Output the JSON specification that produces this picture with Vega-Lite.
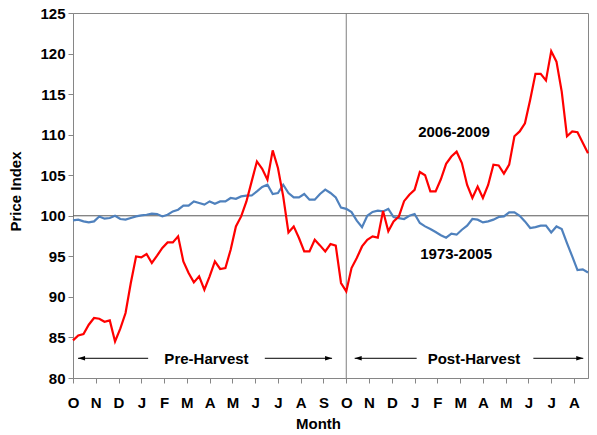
{
  "$schema": "https://vega.github.io/schema/vega-lite/v6.json",
  "width": 515,
  "height": 365,
  "autosize": {"type": "none"},
  "padding": {"left": 73, "top": 13, "right": 9, "bottom": 57},
  "background": "white",
  "config": {
    "view": {"stroke": "#868686", "strokeWidth": 1},
    "font": "Liberation Sans",
    "axis": {
      "labelFont": "Liberation Sans", "labelFontWeight": "bold", "labelFontSize": 15, "labelColor": "#000",
      "titleFont": "Liberation Sans", "titleFontWeight": "bold", "titleFontSize": 15, "titleColor": "#000",
      "domainColor": "#868686", "tickColor": "#868686", "grid": false, "labelOverlap": false
    },
    "axisX": {"labelOverlap": false, "labelFlush": false}
  },
  "data": {"values": [
    {"w":0,"s":"1973-2005","v":99.43},{"w":1,"s":"1973-2005","v":99.52},{"w":2,"s":"1973-2005","v":99.31},{"w":3,"s":"1973-2005","v":99.18},{"w":4,"s":"1973-2005","v":99.31},
    {"w":5,"s":"1973-2005","v":99.92},{"w":6,"s":"1973-2005","v":99.64},{"w":7,"s":"1973-2005","v":99.72},{"w":8,"s":"1973-2005","v":100.0},{"w":9,"s":"1973-2005","v":99.6},
    {"w":10,"s":"1973-2005","v":99.52},{"w":11,"s":"1973-2005","v":99.72},{"w":12,"s":"1973-2005","v":99.92},{"w":13,"s":"1973-2005","v":100.05},{"w":14,"s":"1973-2005","v":100.13},
    {"w":15,"s":"1973-2005","v":100.26},{"w":16,"s":"1973-2005","v":100.22},{"w":17,"s":"1973-2005","v":99.92},{"w":18,"s":"1973-2005","v":100.13},{"w":19,"s":"1973-2005","v":100.54},
    {"w":20,"s":"1973-2005","v":100.75},{"w":21,"s":"1973-2005","v":101.24},{"w":22,"s":"1973-2005","v":101.24},{"w":23,"s":"1973-2005","v":101.77},{"w":24,"s":"1973-2005","v":101.57},
    {"w":25,"s":"1973-2005","v":101.37},{"w":26,"s":"1973-2005","v":101.77},{"w":27,"s":"1973-2005","v":101.49},{"w":28,"s":"1973-2005","v":101.77},{"w":29,"s":"1973-2005","v":101.77},
    {"w":30,"s":"1973-2005","v":102.19},{"w":31,"s":"1973-2005","v":102.1},{"w":32,"s":"1973-2005","v":102.39},{"w":33,"s":"1973-2005","v":102.48},{"w":34,"s":"1973-2005","v":102.5},
    {"w":35,"s":"1973-2005","v":103.0},{"w":36,"s":"1973-2005","v":103.55},{"w":37,"s":"1973-2005","v":103.83},{"w":38,"s":"1973-2005","v":102.69},{"w":39,"s":"1973-2005","v":102.81},
    {"w":40,"s":"1973-2005","v":103.83},{"w":41,"s":"1973-2005","v":102.81},{"w":42,"s":"1973-2005","v":102.27},{"w":43,"s":"1973-2005","v":102.27},{"w":44,"s":"1973-2005","v":102.69},
    {"w":45,"s":"1973-2005","v":101.98},{"w":46,"s":"1973-2005","v":101.98},{"w":47,"s":"1973-2005","v":102.69},{"w":48,"s":"1973-2005","v":103.22},{"w":49,"s":"1973-2005","v":102.81},
    {"w":50,"s":"1973-2005","v":102.25},{"w":51,"s":"1973-2005","v":101.0},{"w":52,"s":"1973-2005","v":100.85},{"w":53,"s":"1973-2005","v":100.45},{"w":54,"s":"1973-2005","v":99.4},
    {"w":55,"s":"1973-2005","v":98.6},{"w":56,"s":"1973-2005","v":100.0},{"w":57,"s":"1973-2005","v":100.47},{"w":58,"s":"1973-2005","v":100.63},{"w":59,"s":"1973-2005","v":100.54},
    {"w":60,"s":"1973-2005","v":100.84},{"w":61,"s":"1973-2005","v":99.85},{"w":62,"s":"1973-2005","v":99.72},{"w":63,"s":"1973-2005","v":99.6},{"w":64,"s":"1973-2005","v":100.0},
    {"w":65,"s":"1973-2005","v":100.22},{"w":66,"s":"1973-2005","v":99.11},{"w":67,"s":"1973-2005","v":98.69},{"w":68,"s":"1973-2005","v":98.37},{"w":69,"s":"1973-2005","v":98.0},
    {"w":70,"s":"1973-2005","v":97.6},{"w":71,"s":"1973-2005","v":97.3},{"w":72,"s":"1973-2005","v":97.79},{"w":73,"s":"1973-2005","v":97.67},{"w":74,"s":"1973-2005","v":98.28},
    {"w":75,"s":"1973-2005","v":98.78},{"w":76,"s":"1973-2005","v":99.6},{"w":77,"s":"1973-2005","v":99.52},{"w":78,"s":"1973-2005","v":99.18},{"w":79,"s":"1973-2005","v":99.31},
    {"w":80,"s":"1973-2005","v":99.52},{"w":81,"s":"1973-2005","v":99.85},{"w":82,"s":"1973-2005","v":99.92},{"w":83,"s":"1973-2005","v":100.42},{"w":84,"s":"1973-2005","v":100.42},
    {"w":85,"s":"1973-2005","v":100.0},{"w":86,"s":"1973-2005","v":99.31},{"w":87,"s":"1973-2005","v":98.49},{"w":88,"s":"1973-2005","v":98.61},{"w":89,"s":"1973-2005","v":98.78},
    {"w":90,"s":"1973-2005","v":98.78},{"w":91,"s":"1973-2005","v":97.95},{"w":92,"s":"1973-2005","v":98.69},{"w":93,"s":"1973-2005","v":98.37},{"w":94,"s":"1973-2005","v":96.64},
    {"w":95,"s":"1973-2005","v":94.99},{"w":96,"s":"1973-2005","v":93.3},{"w":97,"s":"1973-2005","v":93.4},{"w":98,"s":"1973-2005","v":93.0},
    {"w":0,"s":"2006-2009","v":84.64},{"w":1,"s":"2006-2009","v":85.25},{"w":2,"s":"2006-2009","v":85.42},{"w":3,"s":"2006-2009","v":86.57},{"w":4,"s":"2006-2009","v":87.4},
    {"w":5,"s":"2006-2009","v":87.31},{"w":6,"s":"2006-2009","v":86.94},{"w":7,"s":"2006-2009","v":87.1},{"w":8,"s":"2006-2009","v":84.51},{"w":9,"s":"2006-2009","v":86.08},
    {"w":10,"s":"2006-2009","v":88.01},{"w":11,"s":"2006-2009","v":91.71},{"w":12,"s":"2006-2009","v":94.99},{"w":13,"s":"2006-2009","v":94.87},{"w":14,"s":"2006-2009","v":95.29},
    {"w":15,"s":"2006-2009","v":94.18},{"w":16,"s":"2006-2009","v":95.08},{"w":17,"s":"2006-2009","v":96.03},{"w":18,"s":"2006-2009","v":96.72},{"w":19,"s":"2006-2009","v":96.72},
    {"w":20,"s":"2006-2009","v":97.46},{"w":21,"s":"2006-2009","v":94.38},{"w":22,"s":"2006-2009","v":92.95},{"w":23,"s":"2006-2009","v":91.79},{"w":24,"s":"2006-2009","v":92.53},
    {"w":25,"s":"2006-2009","v":90.89},{"w":26,"s":"2006-2009","v":92.53},{"w":27,"s":"2006-2009","v":94.38},{"w":28,"s":"2006-2009","v":93.44},{"w":29,"s":"2006-2009","v":93.56},
    {"w":30,"s":"2006-2009","v":95.82},{"w":31,"s":"2006-2009","v":98.69},{"w":32,"s":"2006-2009","v":99.92},{"w":33,"s":"2006-2009","v":101.77},{"w":34,"s":"2006-2009","v":104.24},
    {"w":35,"s":"2006-2009","v":106.7},{"w":36,"s":"2006-2009","v":105.8},{"w":37,"s":"2006-2009","v":104.44},{"w":38,"s":"2006-2009","v":108.06},{"w":39,"s":"2006-2009","v":105.89},
    {"w":40,"s":"2006-2009","v":102.39},{"w":41,"s":"2006-2009","v":97.95},{"w":42,"s":"2006-2009","v":98.69},{"w":43,"s":"2006-2009","v":97.26},{"w":44,"s":"2006-2009","v":95.61},
    {"w":45,"s":"2006-2009","v":95.61},{"w":46,"s":"2006-2009","v":97.05},{"w":47,"s":"2006-2009","v":96.35},{"w":48,"s":"2006-2009","v":95.61},{"w":49,"s":"2006-2009","v":96.52},
    {"w":50,"s":"2006-2009","v":96.31},{"w":51,"s":"2006-2009","v":91.71},{"w":52,"s":"2006-2009","v":90.68},{"w":53,"s":"2006-2009","v":93.56},{"w":54,"s":"2006-2009","v":94.79},
    {"w":55,"s":"2006-2009","v":96.22},{"w":56,"s":"2006-2009","v":97.05},{"w":57,"s":"2006-2009","v":97.46},{"w":58,"s":"2006-2009","v":97.3},{"w":59,"s":"2006-2009","v":100.6},
    {"w":60,"s":"2006-2009","v":98.1},{"w":61,"s":"2006-2009","v":99.3},{"w":62,"s":"2006-2009","v":99.9},{"w":63,"s":"2006-2009","v":101.8},{"w":64,"s":"2006-2009","v":102.6},
    {"w":65,"s":"2006-2009","v":103.2},{"w":66,"s":"2006-2009","v":105.4},{"w":67,"s":"2006-2009","v":105.0},{"w":68,"s":"2006-2009","v":103.0},{"w":69,"s":"2006-2009","v":103.0},
    {"w":70,"s":"2006-2009","v":104.5},{"w":71,"s":"2006-2009","v":106.4},{"w":72,"s":"2006-2009","v":107.3},{"w":73,"s":"2006-2009","v":107.9},{"w":74,"s":"2006-2009","v":106.5},
    {"w":75,"s":"2006-2009","v":103.8},{"w":76,"s":"2006-2009","v":102.2},{"w":77,"s":"2006-2009","v":103.6},{"w":78,"s":"2006-2009","v":102.2},{"w":79,"s":"2006-2009","v":103.8},
    {"w":80,"s":"2006-2009","v":106.3},{"w":81,"s":"2006-2009","v":106.2},{"w":82,"s":"2006-2009","v":105.2},{"w":83,"s":"2006-2009","v":106.3},{"w":84,"s":"2006-2009","v":109.8},
    {"w":85,"s":"2006-2009","v":110.4},{"w":86,"s":"2006-2009","v":111.4},{"w":87,"s":"2006-2009","v":114.3},{"w":88,"s":"2006-2009","v":117.5},{"w":89,"s":"2006-2009","v":117.5},
    {"w":90,"s":"2006-2009","v":116.7},{"w":91,"s":"2006-2009","v":120.3},{"w":92,"s":"2006-2009","v":119.0},{"w":93,"s":"2006-2009","v":115.3},{"w":94,"s":"2006-2009","v":109.8},
    {"w":95,"s":"2006-2009","v":110.4},{"w":96,"s":"2006-2009","v":110.3},{"w":97,"s":"2006-2009","v":109.0},{"w":98,"s":"2006-2009","v":107.7}
  ]},
  "layer": [
    {
      "mark": {"type": "line", "strokeWidth": 0, "opacity": 0},
      "encoding": {
        "x": {
          "field": "w", "type": "quantitative",
          "scale": {"domain": [0, 98], "nice": false, "zero": false},
          "axis": {
            "values": [0, 4.3333, 8.6667, 13, 17.3333, 21.6667, 26, 30.3333, 34.6667, 39, 43.3333, 47.6667, 52, 56.3333, 60.6667, 65, 69.3333, 73.6667, 78, 82.3333, 86.6667, 91, 95.3333],
            "tickCount": 40,
            "labelExpr": "['O','N','D','J','F','M','A','M','J','J','A','S'][round(datum.value*12/52)%12]",
            "title": "Month", "tickSize": 5, "labelPadding": 12, "titlePadding": 6,
            "labelFlush": false, "labelOverlap": false, "titleX": 245
          }
        },
        "y": {
          "field": "v", "type": "quantitative",
          "scale": {"domain": [80, 125], "nice": false, "zero": false},
          "axis": {
            "values": [80, 85, 90, 95, 100, 105, 110, 115, 120, 125],
            "tickCount": 20,
            "title": "Price Index", "tickSize": 5, "labelPadding": 3, "titlePadding": 16, "titleY": 178
          }
        },
        "detail": {"field": "s", "type": "nominal"}
      }
    },
    {"data": {"values": [{}]}, "mark": {"type": "rule", "color": "#595959", "strokeWidth": 1}, "encoding": {"y": {"datum": 100, "type": "quantitative"}}},
    {"data": {"values": [{}]}, "mark": {"type": "rule", "color": "#7f7f7f", "strokeWidth": 1}, "encoding": {"x": {"datum": 52, "type": "quantitative"}}},
    {
      "mark": {"type": "line", "strokeWidth": 2.2},
      "encoding": {
        "x": {"field": "w", "type": "quantitative"},
        "y": {"field": "v", "type": "quantitative"},
        "color": {"field": "s", "type": "nominal", "scale": {"domain": ["1973-2005", "2006-2009"], "range": ["#4F81BD", "#FF0000"]}, "legend": null}
      }
    },
    {"data": {"values": [{}]}, "mark": {"type": "text", "text": "2006-2009", "font": "Liberation Sans", "fontWeight": "bold", "fontSize": 15, "color": "#000", "baseline": "middle", "align": "center"},
     "encoding": {"x": {"datum": 72.5, "type": "quantitative"}, "y": {"datum": 110.3, "type": "quantitative"}}},
    {"data": {"values": [{}]}, "mark": {"type": "text", "text": "1973-2005", "font": "Liberation Sans", "fontWeight": "bold", "fontSize": 15, "color": "#000", "baseline": "middle", "align": "center"},
     "encoding": {"x": {"datum": 72.9, "type": "quantitative"}, "y": {"datum": 95.26, "type": "quantitative"}}},
    {"data": {"values": [{}]}, "mark": {"type": "text", "text": "Pre-Harvest", "font": "Liberation Sans", "fontWeight": "bold", "fontSize": 15, "color": "#000", "baseline": "middle", "align": "center"},
     "encoding": {"x": {"datum": 25.4, "type": "quantitative"}, "y": {"datum": 82.35, "type": "quantitative"}}},
    {"data": {"values": [{}]}, "mark": {"type": "text", "text": "Post-Harvest", "font": "Liberation Sans", "fontWeight": "bold", "fontSize": 15, "color": "#000", "baseline": "middle", "align": "center"},
     "encoding": {"x": {"datum": 76.3, "type": "quantitative"}, "y": {"datum": 82.35, "type": "quantitative"}}},
    {"data": {"values": [{}]}, "mark": {"type": "rule", "color": "#000", "strokeWidth": 1}, "encoding": {"x": {"datum": 0.96, "type": "quantitative"}, "x2": {"datum": 14.3}, "y": {"datum": 82.43, "type": "quantitative"}}},
    {"data": {"values": [{}]}, "mark": {"type": "rule", "color": "#000", "strokeWidth": 1}, "encoding": {"x": {"datum": 36.5, "type": "quantitative"}, "x2": {"datum": 49.3}, "y": {"datum": 82.43, "type": "quantitative"}}},
    {"data": {"values": [{}]}, "mark": {"type": "rule", "color": "#000", "strokeWidth": 1}, "encoding": {"x": {"datum": 53.6, "type": "quantitative"}, "x2": {"datum": 65.4}, "y": {"datum": 82.43, "type": "quantitative"}}},
    {"data": {"values": [{}]}, "mark": {"type": "rule", "color": "#000", "strokeWidth": 1}, "encoding": {"x": {"datum": 87.6, "type": "quantitative"}, "x2": {"datum": 97.1}, "y": {"datum": 82.43, "type": "quantitative"}}},
    {"data": {"values": [{}]}, "mark": {"type": "point", "shape": "M0,0L1,-0.32L1,0.32Z", "size": 196, "filled": true, "color": "#000", "opacity": 1},
     "encoding": {"x": {"datum": 0.96, "type": "quantitative"}, "y": {"datum": 82.43, "type": "quantitative"}}},
    {"data": {"values": [{}]}, "mark": {"type": "point", "shape": "M0,0L1,-0.32L1,0.32Z", "size": 196, "filled": true, "color": "#000", "opacity": 1},
     "encoding": {"x": {"datum": 53.6, "type": "quantitative"}, "y": {"datum": 82.43, "type": "quantitative"}}},
    {"data": {"values": [{}]}, "mark": {"type": "point", "shape": "M0,0L-1,-0.32L-1,0.32Z", "size": 196, "filled": true, "color": "#000", "opacity": 1},
     "encoding": {"x": {"datum": 49.3, "type": "quantitative"}, "y": {"datum": 82.43, "type": "quantitative"}}},
    {"data": {"values": [{}]}, "mark": {"type": "point", "shape": "M0,0L-1,-0.32L-1,0.32Z", "size": 196, "filled": true, "color": "#000", "opacity": 1},
     "encoding": {"x": {"datum": 97.1, "type": "quantitative"}, "y": {"datum": 82.43, "type": "quantitative"}}}
  ]
}
